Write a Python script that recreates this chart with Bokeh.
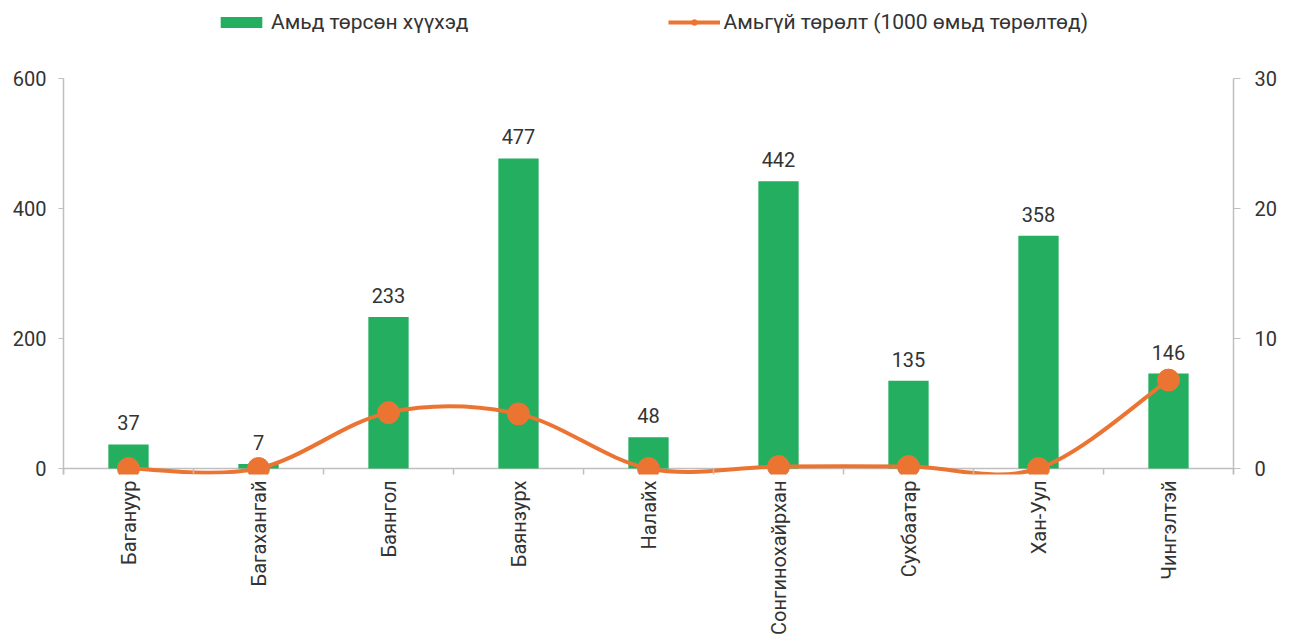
from bokeh.plotting import figure
from bokeh.models import (Range1d, LinearAxis, FixedTicker, ColumnDataSource, LabelSet,
                          Legend, LegendItem, Span)
from bokeh.core.properties import value
from bokeh.embed import file_html
from bokeh.resources import INLINE

# ---- data ----
categories = ["Багануур", "Багахангай", "Баянгол", "Баянзурх", "Налайх",
              "Сонгинохайрхан", "Сухбаатар", "Хан-Уул", "Чингэлтэй"]
live_births = [37, 7, 233, 477, 48, 442, 135, 358, 146]
stillbirth_rate = [0, 0, 4.3, 4.2, 0, 0.15, 0.15, 0, 6.8]
left_ticks = [0, 200, 400, 600]
right_ticks = [0, 10, 20, 30]
bar_label = "Амьд төрсөн хүүхэд"
line_label = "Амьгүй төрөлт (1000 өмьд төрөлтөд)"

GREEN = "#24AE5F"
ORANGE = "#EC7433"
AXIS = "#BFBFBF"
TEXT = "#333333"
FONT = "Roboto"

n = len(categories)
xc = [i + 0.5 for i in range(n)]

# axis extents, plus room below zero (unclipped curve) and above (legend area)
left_max = 600
right_max = 30
left_lo = -9.2
left_hi = 704.6
ratio = right_max / left_max
right_lo = left_lo * ratio
right_hi = left_hi * ratio

p = figure(width=1301, height=641, output_backend="svg", toolbar_location=None,
           x_range=Range1d(0, n), y_range=Range1d(left_lo, left_hi),
           min_border_left=63, min_border_right=68, min_border_top=10, min_border_bottom=167)
p.extra_y_ranges = {"right": Range1d(right_lo, right_hi)}
p.outline_line_color = None
p.xgrid.visible = False
p.ygrid.visible = False
p.background_fill_color = "white"

zero_line = Span(location=0, dimension="width", line_color=AXIS, line_width=1.5, level="underlay")
p.add_layout(zero_line)

src = ColumnDataSource(dict(x=xc, v=live_births, lab=[str(v) for v in live_births],
                            r=stillbirth_rate))

bars = p.vbar(x="x", top="v", width=0.31, bottom=0, source=src, fill_color=GREEN, line_color=None)

# smoothed curve (Catmull-Rom style Bezier through the data points)
x0, y0, x1, y1, cx0, cy0, cx1, cy1 = [], [], [], [], [], [], [], []
for i in range(n - 1):
    pm = (xc[max(i - 1, 0)], stillbirth_rate[max(i - 1, 0)])
    pa = (xc[i], stillbirth_rate[i])
    pb = (xc[i + 1], stillbirth_rate[i + 1])
    pn = (xc[min(i + 2, n - 1)], stillbirth_rate[min(i + 2, n - 1)])
    x0.append(pa[0]); y0.append(pa[1]); x1.append(pb[0]); y1.append(pb[1])
    cx0.append(pa[0] + (pb[0] - pm[0]) / 6); cy0.append(pa[1] + (pb[1] - pm[1]) / 6)
    cx1.append(pb[0] - (pn[0] - pa[0]) / 6); cy1.append(pb[1] - (pn[1] - pa[1]) / 6)
curve = p.bezier(x0=x0, y0=y0, x1=x1, y1=y1, cx0=cx0, cy0=cy0, cx1=cx1, cy1=cy1,
                 y_range_name="right", line_color=ORANGE, line_width=4)
dots = p.scatter(x="x", y="r", source=src, y_range_name="right", size=22,
                 fill_color=ORANGE, line_color=ORANGE)

labels = LabelSet(x="x", y="v", text="lab", source=src, y_offset=14, text_align="center",
                  text_baseline="bottom", text_font=value(FONT), text_font_size="20px",
                  text_color=TEXT)
p.add_layout(labels)

# axes
xa = p.xaxis[0]
xa.ticker = FixedTicker(ticks=xc, minor_ticks=list(range(n + 1)))
xa.major_label_overrides = {x: c for x, c in zip(xc, categories)}
xa.major_label_orientation = 3.14159265 / 2
xa.major_tick_line_color = None
xa.major_tick_out = 0
xa.major_tick_in = 0
xa.minor_tick_line_color = AXIS
xa.minor_tick_line_width = 1.5
xa.minor_tick_out = 0
xa.minor_tick_in = 6
xa.axis_line_color = None
xa.major_label_standoff = 6
xa.major_label_text_font = FONT
xa.major_label_text_font_size = "20px"
xa.major_label_text_color = TEXT

ya = p.yaxis[0]
ya.ticker = FixedTicker(ticks=left_ticks)
ya.bounds = (left_lo, left_max)
ya.minor_tick_line_color = None
ya.major_tick_line_color = AXIS
ya.major_tick_out = 5
ya.major_tick_in = 0
ya.axis_line_color = AXIS
ya.axis_line_width = 1.5
ya.major_label_standoff = 12
ya.major_label_text_font = FONT
ya.major_label_text_font_size = "20px"
ya.major_label_text_color = TEXT

ra = LinearAxis(y_range_name="right", ticker=FixedTicker(ticks=right_ticks),
                bounds=(right_lo, right_max))
ra.minor_tick_line_color = None
ra.major_tick_line_color = AXIS
ra.major_tick_out = 7
ra.major_tick_in = 0
ra.axis_line_color = AXIS
ra.axis_line_width = 1.5
ra.major_label_standoff = 14
ra.major_label_text_font = FONT
ra.major_label_text_font_size = "20px"
ra.major_label_text_color = TEXT
p.add_layout(ra, "right")

legend = Legend(items=[LegendItem(label=bar_label, renderers=[bars]),
                       LegendItem(label=line_label, renderers=[curve, dots])],
                orientation="horizontal", location=(152, 440),
                glyph_width=52, glyph_height=14, spacing=199, label_standoff=4,
                padding=0, margin=0, border_line_color=None, background_fill_alpha=0,
                label_text_font=FONT, label_text_font_size="21px", label_text_color=TEXT)
p.add_layout(legend)

open("out.html", "w").write(file_html(p, INLINE))
